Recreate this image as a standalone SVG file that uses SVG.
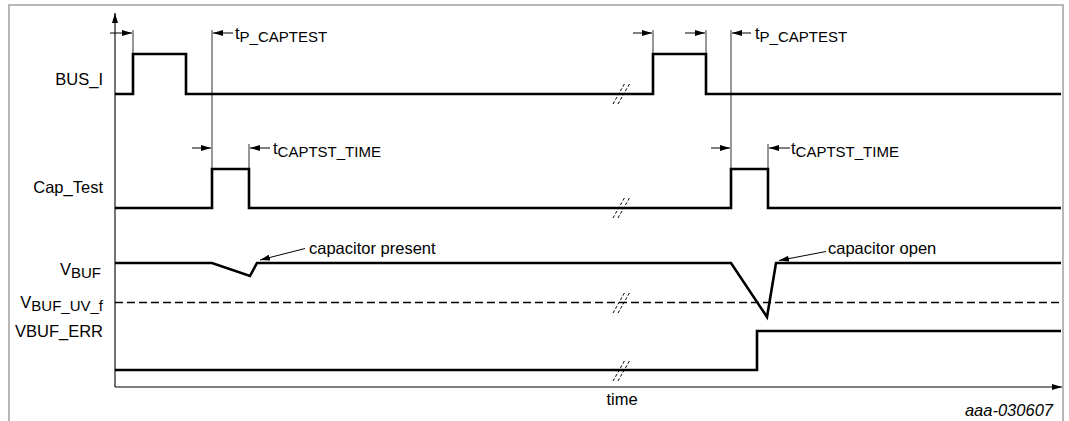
<svg xmlns="http://www.w3.org/2000/svg" width="1069" height="421" viewBox="0 0 1069 421">
<defs>
<marker id="ah" viewBox="0 0 10 6" refX="10" refY="3" markerWidth="10" markerHeight="6" markerUnits="userSpaceOnUse" orient="auto">
<path d="M0,0 L10,3 L0,6 z" fill="#000"/>
</marker>
<style>
.sig{fill:none;stroke:#000;stroke-width:2.6;stroke-linejoin:miter}
.thin{fill:none;stroke:#444;stroke-width:1.1}
.dim{fill:none;stroke:#000;stroke-width:1;marker-end:url(#ah)}
.axis{fill:none;stroke:#000;stroke-width:1.1;marker-end:url(#ah)}
.brk{fill:none;stroke:#000;stroke-width:1;stroke-dasharray:3 2}
.lbl{font-family:"Liberation Sans",Arial,sans-serif;font-size:16.5px;fill:#000}
.sub{font-size:15px}
</style>
</defs>
<rect x="0" y="0" width="1069" height="421" fill="#fff"/>
<path d="M9,425 V5 H1063 V425" fill="none" stroke="#a0a0a0" stroke-width="1.5"/>

<g id="connectors">
<path class="axis" d="M115,387 V13"/>
<path class="axis" d="M115,387 H1062"/>
<path class="thin" d="M212,30 V169 M731,30 V169 M133,30 V54 M653,30 V54 M706,30 V54 M249,144 V169 M768,144 V169"/>
<path class="dim" d="M110,33 H132"/>
<path class="dim" d="M633,33 H652"/>
<path class="dim" d="M685,33 H705"/>
<path class="dim" d="M233,33 H213"/>
<path class="dim" d="M751,33 H732"/>
<path class="dim" d="M192,148 H211"/>
<path class="dim" d="M270,148 H250"/>
<path class="dim" d="M711,148 H730"/>
<path class="dim" d="M790,148 H769"/>
<path class="dim" d="M305,248.5 L260,260"/>
<path class="dim" d="M826,251.5 L779,260.5"/>
</g>

<g id="bus_i">
<path class="sig" d="M115,94 H133 V54 H186 V94 H653 V54 H706 V94 H1061"/>
<text class="lbl" x="103" y="85" text-anchor="end">BUS_I</text>
</g>
<g id="cap_test">
<path class="sig" d="M115,208 H212 V169 H249 V208 H731 V169 H768 V208 H1061"/>
<text class="lbl" x="103" y="193" text-anchor="end">Cap_Test</text>
</g>
<g id="vbuf">
<path class="sig" d="M115,263 H212 L250,276 L257,263 H731 L767,317 L776,263 H1061"/>
<text class="lbl" x="101" y="275" text-anchor="end">V<tspan class="sub" dy="3">BUF</tspan></text>
</g>
<g id="vbuf_uv_f">
<path d="M115,302.5 H1061" fill="none" stroke="#000" stroke-width="1.3" stroke-dasharray="8 4"/>
<text class="lbl" x="103" y="308" text-anchor="end">V<tspan class="sub" dy="3">BUF_UV_f</tspan></text>
</g>
<g id="vbuf_err">
<path class="sig" d="M115,370 H757 V331 H1061"/>
<text class="lbl" x="103" y="337" text-anchor="end">VBUF_ERR</text>
</g>

<g id="breaks">
<path class="brk" d="M613,104 L625,83 M618,104 L630,83"/>
<path class="brk" d="M613,218 L625,197 M618,218 L630,197"/>
<path class="brk" d="M613,313 L625,292 M618,313 L630,292"/>
<path class="brk" d="M613,381 L625,360 M618,381 L630,360"/>
</g>

<g id="labels">
<text class="lbl" x="235" y="38.5">t<tspan class="sub" dy="3">P_CAPTEST</tspan></text>
<text class="lbl" x="755" y="38.5">t<tspan class="sub" dy="3">P_CAPTEST</tspan></text>
<text class="lbl" x="273" y="154">t<tspan class="sub" dy="3">CAPTST_TIME</tspan></text>
<text class="lbl" x="791" y="154">t<tspan class="sub" dy="3">CAPTST_TIME</tspan></text>
<text class="lbl" x="309" y="254">capacitor present</text>
<text class="lbl" x="828" y="254">capacitor open</text>
<text class="lbl" x="622" y="405" text-anchor="middle">time</text>
<text class="lbl" x="1053" y="416" text-anchor="end" font-style="italic" font-size="15px">aaa-030607</text>
</g>
</svg>
